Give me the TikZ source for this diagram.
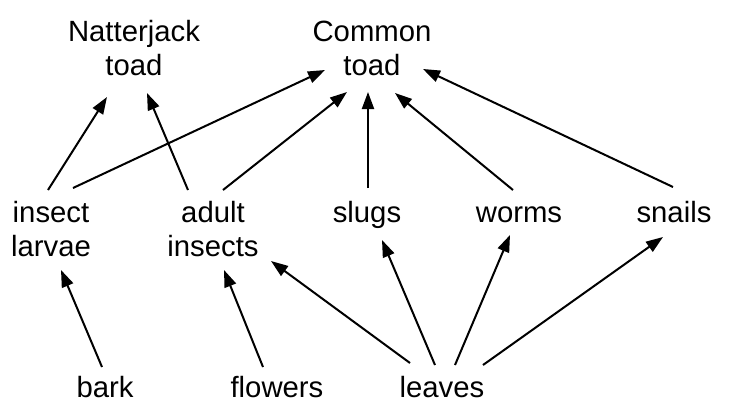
\documentclass[tikz,border=0pt]{standalone}
\usepackage{fontspec}
\setmainfont{Liberation Sans}
\usetikzlibrary{arrows.meta}

\begin{document}
\begin{tikzpicture}[x=1pt, y=-1pt,
    species/.style={inner sep=0pt, align=center, font=\fontsize{29.3}{34}\selectfont},
    eats/.style={-{Triangle[length=17pt, width=12pt]}, line width=2pt}]
    \useasboundingbox (0,0) rectangle (732,416);

    % predators
    \node[species] (nat) at (134, 48) {Natterjack\\toad};
    \node[species] (com) at (372, 48) {Common\\toad};
    % middle level
    \node[species] (lar) at (51, 229) {insect\\larvae};
    \node[species] (adu) at (213, 229) {adult\\insects};
    \node[species, anchor=base] (slu) at (367, 222) {slugs};
    \node[species, anchor=base] (wor) at (519, 222) {worms};
    \node[species, anchor=base] (sna) at (674, 222) {snails};
    % producers
    \node[species, anchor=base] (bar) at (105, 397) {bark};
    \node[species, anchor=base] (flo) at (277, 397) {flowers};
    \node[species, anchor=base] (lea) at (442, 397) {leaves};

    % eaten by the toads
    \draw[eats] ([shift={(-3,-39)}]lar.center) -- ([shift={(-27,49)}]nat.center);
    \draw[eats] ([shift={(22,-41)}]lar.center) -- ([shift={(-47,22)}]com.center);
    \draw[eats] ([shift={(-25,-39)}]adu.center) -- ([shift={(13,45)}]nat.center);
    \draw[eats] ([shift={(10,-39)}]adu.center) -- ([shift={(-25,44)}]com.center);
    \draw[eats] ([shift={(1,-34)}]slu.base) -- ([shift={(-4,44)}]com.center);
    \draw[eats] ([shift={(-6,-32)}]wor.base) -- ([shift={(23,45)}]com.center);
    \draw[eats] ([shift={(-1,-35)}]sna.base) -- ([shift={(51,21)}]com.center);

    % plant food
    \draw[eats] ([shift={(-3,-30)}]bar.base) -- ([shift={(10,41)}]lar.center);
    \draw[eats] ([shift={(-14,-30)}]flo.base) -- ([shift={(11,41)}]adu.center);
    \draw[eats] ([shift={(-32,-34)}]lea.base) -- ([shift={(58,32)}]adu.center);
    \draw[eats] ([shift={(-7,-32)}]lea.base) -- ([shift={(15,18)}]slu.base);
    \draw[eats] ([shift={(13,-32)}]lea.base) -- ([shift={(-9,13)}]wor.base);
    \draw[eats] ([shift={(41,-32)}]lea.base) -- ([shift={(-11,15)}]sna.base);
\end{tikzpicture}
\end{document}
